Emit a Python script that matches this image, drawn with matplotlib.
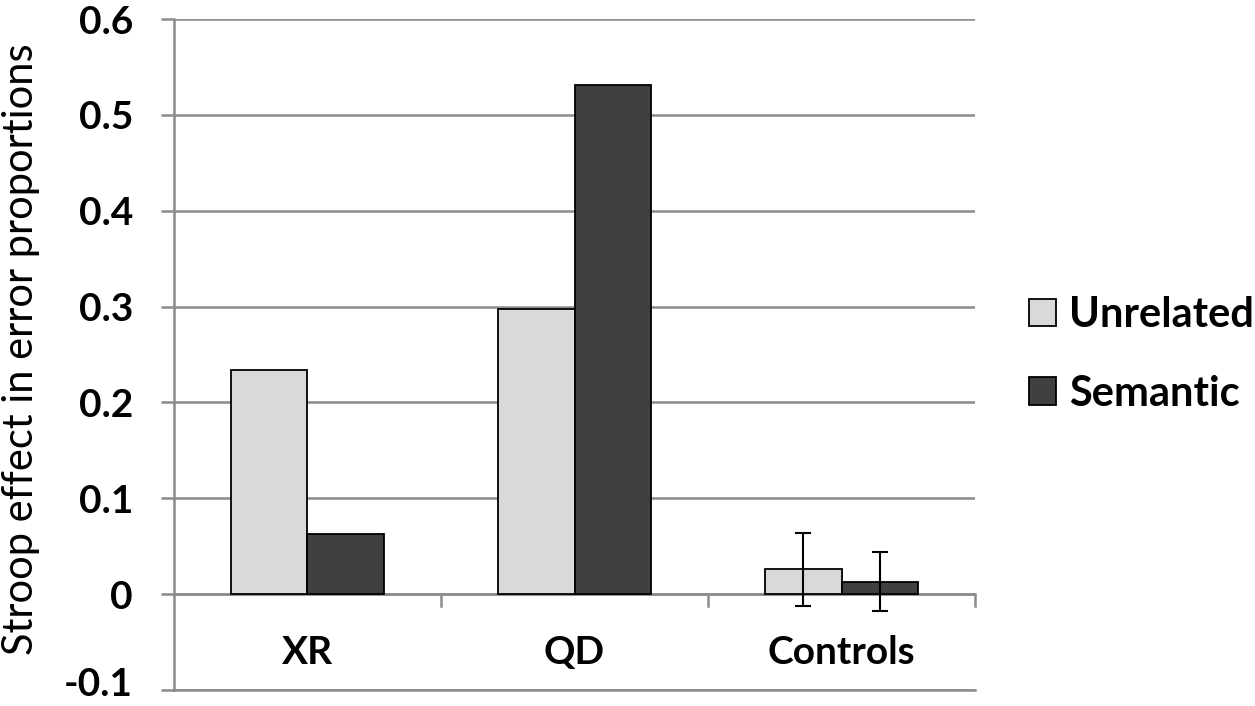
import numpy as np
import matplotlib.pyplot as plt
import matplotlib.transforms as mtransforms
from matplotlib.patches import Patch

groups = ["XR", "QD", "Controls"]
unrelated = [0.234, 0.297, 0.026]
semantic = [0.063, 0.531, 0.013]
# error bars only shown for the control group
unrelated_err = [0, 0, 0.038]
semantic_err = [0, 0, 0.031]
yticks = [-0.1, 0, 0.1, 0.2, 0.3, 0.4, 0.5, 0.6]
ytick_labels = ["-0.1", "0", "0.1", "0.2", "0.3", "0.4", "0.5", "0.6"]

light = "#d9d9d9"
dark = "#404040"
grey = "#8c8c8c"
font = "Lato"

fig = plt.figure(figsize=(12.55, 7.06), dpi=100)
ax = fig.add_axes([0.1386, 0.0227, 0.777 - 0.1386, 0.973 - 0.0227])

x = np.arange(len(groups))
w = 0.287
ax.bar(x - w / 2, unrelated, w, color=light, edgecolor="black", linewidth=1.3, zorder=3)
ax.bar(x + w / 2, semantic, w, color=dark, edgecolor="black", linewidth=1.3, zorder=3)

ctrl = len(groups) - 1
ax.errorbar([ctrl - w / 2], [unrelated[ctrl]], yerr=[unrelated_err[ctrl]], fmt="none",
            ecolor="black", elinewidth=1.5, capsize=5.5, capthick=1.5, zorder=4)
ax.errorbar([ctrl + w / 2], [semantic[ctrl]], yerr=[semantic_err[ctrl]], fmt="none",
            ecolor="black", elinewidth=1.5, capsize=5.5, capthick=1.5, zorder=4)

ax.set_xlim(-0.5, len(groups) - 0.5)
ax.set_ylim(-0.1, 0.6)
ax.set_yticks(yticks)
ax.set_yticklabels(ytick_labels, fontfamily=font, fontweight="bold", fontsize=28)
ax.yaxis.grid(True, color=grey, linewidth=1.8, zorder=0)
ax.tick_params(axis="y", length=9.5, width=1.8, color=grey, pad=20)
# lift the bottom label a little so it stays inside the figure
bottom_lbl = ax.get_yticklabels()[0]
bottom_lbl.set_transform(bottom_lbl.get_transform() +
                         mtransforms.ScaledTranslation(0, 8 / 100, fig.dpi_scale_trans))

# category axis sits on the zero line
ax.axhline(0, color=grey, linewidth=1.8, zorder=2)
for b in np.arange(0.5, len(groups), 1.0):
    ax.plot([b, b], [0, -0.0125], color=grey, linewidth=1.8, clip_on=False, zorder=2)
ax.set_xticks([])
for i, g in enumerate(groups):
    ax.text(i, -0.0605, g, ha="center", va="center", fontfamily=font,
            fontweight="bold", fontsize=28)

for s in ["top", "right"]:
    ax.spines[s].set_visible(False)
ax.spines["left"].set_color(grey)
ax.spines["left"].set_linewidth(1.8)
ax.spines["bottom"].set_color(grey)
ax.spines["bottom"].set_linewidth(1.8)

fig.text(21 / 1255, 0.505, "Stroop effect in error proportions", rotation=90,
         ha="center", va="center", fontfamily=font, fontsize=30)

handles = [Patch(facecolor=light, edgecolor="black", linewidth=1.3),
           Patch(facecolor=dark, edgecolor="black", linewidth=1.3)]
fig.legend(handles, ["Unrelated", "Semantic"], loc="center left",
           bbox_to_anchor=(0.820, 0.498), frameon=False, borderpad=0, borderaxespad=0,
           prop={"family": font, "weight": "bold", "size": 30},
           handlelength=0.65, handleheight=0.65, handletextpad=0.3, labelspacing=0.97)

fig.savefig("out.png", dpi=100)
